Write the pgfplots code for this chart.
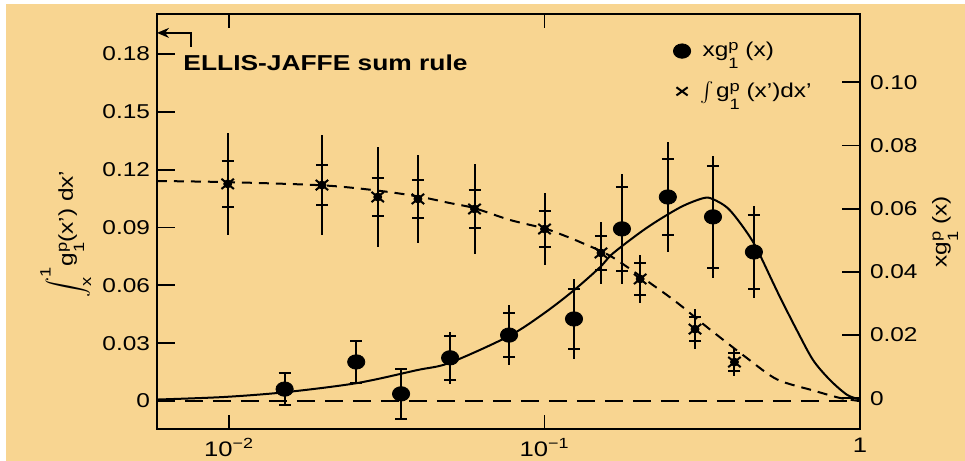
\documentclass[border=0pt]{standalone}
\usepackage{fontspec}
\setmainfont{Liberation Sans}[FakeStretch=1.22]
\usepackage{pgfplots}
\usepackage{pgfplotstable}
\pgfplotsset{compat=1.18}
\usetikzlibrary{arrows.meta}
\definecolor{bg}{RGB}{248,213,145}
\newcommand{\sml}{\fontsize{7.5}{8}\selectfont}
\newcommand{\sub}[2]{\rlap{\raisebox{3.0pt}{\sml #1}}\raisebox{-5.7pt}{\sml #2}}

\pgfplotstableread{
x y tot stat
0.0099 0.1126 0.0265 0.0120
0.0197 0.1120 0.0258 0.0105
0.0296 0.1058 0.0257 0.0101
0.0397 0.1048 0.0228 0.0099
0.0600 0.0996 0.0233 0.0099
0.1000 0.0892 0.0187 0.0091
0.1510 0.0768 0.0160 0.0090
0.2010 0.0633 0.0125 0.0083
0.3000 0.0373 0.0104 0.0062
0.4000 0.0202 0.0070 0.0047
}\crosstab

\pgfplotstableread{
x y tot stat
0.0150 0.0029 0.0051 0.0051
0.0253 0.0115 0.0066 0.0066
0.0351 0.0014 0.0078 0.0078
0.0502 0.0128 0.0082 0.0070
0.0772 0.0200 0.0095 0.0070
0.1240 0.0251 0.0127 0.0095
0.1760 0.0536 0.0174 0.0133
0.2460 0.0637 0.0174 0.0120
0.3420 0.0574 0.0193 0.0161
0.4610 0.0463 0.0146 0.0117
}\dottab

\pgfplotstableread{
x y
0.00591 0.1141
0.01 0.1135
0.02 0.1118
0.03 0.1090
0.04 0.1060
0.05 0.1027
0.06 0.1000
0.0777 0.0939
0.1 0.0895
0.1146 0.0860
0.1315 0.0820
0.1637 0.0747
0.2275 0.0586
0.269 0.0498
0.327 0.0384
0.438 0.0223
0.546 0.0112
0.71 0.0055
0.864 0.0016
1 0
}\dashcurve

\pgfplotstableread{
x y
0.00591 -0.0004
0.0096 0.0004
0.015 0.0019
0.0254 0.0048
0.0394 0.0089
0.05 0.0112
0.0772 0.0197
0.1 0.0270
0.124 0.0342
0.15 0.0415
0.165 0.0459
0.2113 0.0540
0.269 0.0604
0.318 0.0633
0.342 0.0630
0.387 0.0595
0.458 0.0495
0.53 0.0366
0.5577 0.0320
0.631 0.0215
0.71 0.0121
0.803 0.0058
0.91 0.0011
1 -0.0004
}\solidcurve

\begin{document}
\begin{tikzpicture}
\path[use as bounding box] (0,0) rectangle (482.5pt,230.5pt);
\fill[bg] (3pt,0) rectangle (482.5pt,228.5pt);

% frame and x ticks
\begin{axis}[at={(78.5pt,16pt)}, anchor=south west, scale only axis,
  width=351.5pt, height=207.5pt, xmode=log, xmin=0.00591, xmax=1,
  tick align=inside, tick style={black, line width=0.9pt},
  axis line style={black, line width=0.9pt}, xminorticks=false,
  ymin=-0.0145, ymax=0.2007,
  xtick={0.01,0.1,1}, xticklabels={10\textsuperscript{−2},10\textsuperscript{−1},1},
  ytick=\empty, major tick length=7pt,
  xticklabel style={font=\fontsize{10.5}{12}\selectfont, yshift=-1pt}]
\end{axis}

% left axis: integral
\begin{axis}[at={(78.5pt,16pt)}, anchor=south west, scale only axis,
  width=351.5pt, height=207.5pt, xmode=log, xmin=0.00591, xmax=1,
  tick align=inside, tick style={black, line width=0.9pt},
  axis line style={black, line width=0.9pt, -}, xminorticks=false,
  ymin=-0.0145, ymax=0.2007,
  axis x line=none, axis y line*=left, major tick length=9pt,
  ytick={0,0.03,0.06,0.09,0.12,0.15,0.18},
  yticklabels={0,0.03,0.06,0.09,0.12,0.15,0.18},
  ylabel={$\displaystyle\int_{\mbox{\sml x}}^{\mbox{\sml 1}}$g\sub{p}{1}(x') dx'},
  ylabel style={at={(axis description cs:-0.13,0.47)}, anchor=center, rotate=0}]
\addplot[black, line width=0.8pt, dash pattern=on 9pt off 5pt, forget plot] coordinates {(0.00591,0) (1,0)};
\addplot[black, line width=1pt, dash pattern=on 5pt off 3.5pt, smooth, forget plot] table[x=x,y=y] {\dashcurve};
\addplot[only marks, mark=none, forget plot,
  error bars/.cd, y dir=both, y explicit, error mark=none,
  error bar style={black, line width=1pt, solid}]
  table[x=x, y=y, y error=tot] {\crosstab};
\addplot[only marks, mark=x, mark size=4pt, mark options={black, line width=1pt, xscale=1.1, yscale=0.9}, forget plot,
  error bars/.cd, y dir=both, y explicit, error mark=-,
  error mark options={rotate=90, black, line width=1pt, mark size=3pt, xscale=1, yscale=1},
  error bar style={black, line width=1pt, solid}]
  table[x=x, y=y, y error=stat] {\crosstab};
\draw[black, line width=0.9pt, -{Stealth[length=6pt,width=5pt]}] (axis cs:0.00758,0.1836) |- (axis cs:0.00591,0.1909);
\node[anchor=west, font=\bfseries\fontsize{10.8}{12}\selectfont, inner sep=0pt] at (axis cs:0.00715,0.1753) {ELLIS-JAFFE sum rule};
\end{axis}

% right axis: x g1
\begin{axis}[at={(78.5pt,16pt)}, anchor=south west, scale only axis,
  width=351.5pt, height=207.5pt, xmode=log, xmin=0.00591, xmax=1,
  tick align=inside, tick style={black, line width=0.9pt},
  axis line style={black, line width=0.9pt, -}, xminorticks=false,
  ymin=-0.00972, ymax=0.1216,
  axis x line=none, axis y line*=right, yticklabel pos=right, major tick length=9pt,
  ytick={0,0.02,0.04,0.06,0.08,0.10},
  yticklabels={0,0.02,0.04,0.06,0.08,0.10},
  yticklabel style={xshift=1.5pt},
  ylabel={xg\sub{p}{1} (x)},
  ylabel style={at={(axis description cs:1.121,0.475)}, anchor=center, rotate=0},
  legend style={at={(0.7255,0.952)}, anchor=north west, draw=none, fill=none,
     row sep=7pt, font=\normalsize},
  legend cell align=left]
\addlegendimage{only marks, mark=*, mark size=3.6pt, mark options={xscale=1.2, black, fill=black}}
\addlegendentry{\hspace{4pt}xg\sub{p}{1} (x)}
\addlegendimage{only marks, mark=x, mark size=3.6pt, mark options={black, line width=1pt, xscale=1.1, yscale=0.8}}
\addlegendentry{\hspace{3pt}$\int$\kern1pt g\sub{p}{1} (x')dx'}
\addplot[black, line width=1pt, smooth, forget plot] table[x=x,y=y] {\solidcurve};
\addplot[only marks, mark=none, forget plot,
  error bars/.cd, y dir=both, y explicit, error mark=none,
  error bar style={black, line width=1pt, solid}]
  table[x=x, y=y, y error=tot] {\dottab};
\addplot[only marks, mark=*, mark size=3.6pt, mark options={xscale=1.2, black, fill=black}, forget plot,
  error bars/.cd, y dir=both, y explicit, error mark=-,
  error mark options={rotate=90, black, line width=1pt, mark size=3pt},
  error bar style={black, line width=1pt, solid}]
  table[x=x, y=y, y error=stat] {\dottab};
\end{axis}
\end{tikzpicture}
\end{document}
